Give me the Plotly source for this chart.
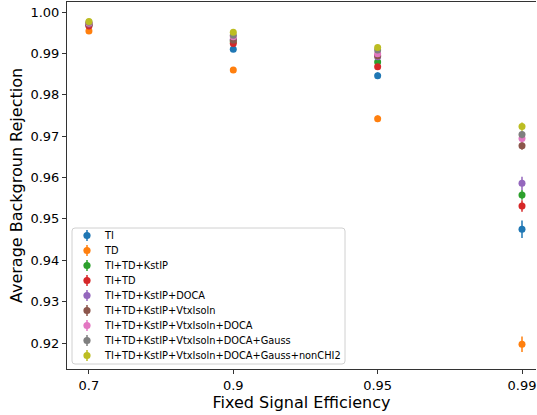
import plotly.graph_objects as go

efficiencies = ["0.7", "0.9", "0.95", "0.99"]

series_names = [
    "TI",
    "TD",
    "TI+TD+KstIP",
    "TI+TD",
    "TI+TD+KstIP+DOCA",
    "TI+TD+KstIP+VtxIsoln",
    "TI+TD+KstIP+VtxIsoln+DOCA",
    "TI+TD+KstIP+VtxIsoln+DOCA+Gauss",
    "TI+TD+KstIP+VtxIsoln+DOCA+Gauss+nonCHI2",
]

rej_ti = [0.9968, 0.9910, 0.9846, 0.9475]
rej_td = [0.9954, 0.9860, 0.9742, 0.9197]
rej_ti_td_kstip = [0.9969, 0.9928, 0.9879, 0.9558]
rej_ti_td = [0.9966, 0.9924, 0.9868, 0.9531]
rej_doca = [0.9971, 0.9934, 0.9892, 0.9586]
rej_vtx = [0.9971, 0.9932, 0.9894, 0.9677]
rej_vtx_doca = [0.9973, 0.9940, 0.9899, 0.9694]
rej_gauss = [0.9975, 0.9944, 0.9908, 0.9704]
rej_nonchi2 = [0.9977, 0.9951, 0.9914, 0.9723]

err_ti = [0.0002, 0.0004, 0.0008, 0.0021]
err_td = [0.0002, 0.0003, 0.0008, 0.0019]
err_ti_td_kstip = [0.0002, 0.0003, 0.0005, 0.0012]
err_ti_td = [0.0002, 0.0003, 0.0005, 0.0014]
err_doca = [0.0002, 0.0003, 0.0005, 0.0016]
err_vtx = [0.0002, 0.0003, 0.0005, 0.0010]
err_vtx_doca = [0.0002, 0.0003, 0.0005, 0.0009]
err_gauss = [0.0002, 0.0003, 0.0005, 0.0009]
err_nonchi2 = [0.0002, 0.0003, 0.0005, 0.0010]

values = [rej_ti, rej_td, rej_ti_td_kstip, rej_ti_td, rej_doca,
          rej_vtx, rej_vtx_doca, rej_gauss, rej_nonchi2]
errors = [err_ti, err_td, err_ti_td_kstip, err_ti_td, err_doca,
          err_vtx, err_vtx_doca, err_gauss, err_nonchi2]

colors = ["#1f77b4", "#ff7f0e", "#2ca02c", "#d62728", "#9467bd",
          "#8c564b", "#e377c2", "#7f7f7f", "#bcbd22"]

W, H = 537, 415
ML, MR, MT, MB = 67, 1, 2, 46
PW, PH = W - ML - MR, H - MT - MB


def px_x(px):
    """Pixel column -> paper x (relative to plot area)."""
    return (px - ML) / PW


def px_y(py):
    """Pixel row -> paper y (relative to plot area)."""
    return (H - MB - py) / PH


def rounded_box(x0, y0, x1, y1, r):
    """SVG path (paper coords) for a rectangle with rounded corners, given pixels."""
    rx, ry = r / PW, r / PH
    X0, X1, Y0, Y1 = px_x(x0), px_x(x1), px_y(y1), px_y(y0)
    return (f"M {X0 + rx},{Y0} L {X1 - rx},{Y0} Q {X1},{Y0} {X1},{Y0 + ry} "
            f"L {X1},{Y1 - ry} Q {X1},{Y1} {X1 - rx},{Y1} "
            f"L {X0 + rx},{Y1} Q {X0},{Y1} {X0},{Y1 - ry} "
            f"L {X0},{Y0 + ry} Q {X0},{Y0} {X0 + rx},{Y0} Z")


fig = go.Figure()
for name, ys, es, c in zip(series_names, values, errors, colors):
    fig.add_trace(go.Scatter(
        x=efficiencies, y=ys, name=name, mode="markers",
        marker=dict(color=c, size=7, line=dict(width=0)),
        error_y=dict(type="data", array=es, visible=True,
                     color=c, thickness=1.5, width=0),
        showlegend=False,
    ))

font = "DejaVu Sans, sans-serif"

# compact legend box: frame, then one symbol + label per series
shapes = [dict(
    type="path", xref="paper", yref="paper", layer="above",
    path=rounded_box(72, 228, 345, 364, 3),
    line=dict(color="#d0d0d0", width=1), fillcolor="rgba(255,255,255,0.8)",
)]
annotations = []
row0, row_step = 235.5, 15.0
sym_x, txt_x = 87, 101.5
for i, (name, c) in enumerate(zip(series_names, colors)):
    cy = row0 + i * row_step
    shapes.append(dict(
        type="line", xref="paper", yref="paper", layer="above",
        x0=px_x(sym_x), x1=px_x(sym_x), y0=px_y(cy - 5.5), y1=px_y(cy + 5.5),
        line=dict(color=c, width=1.5),
    ))
    shapes.append(dict(
        type="circle", xref="paper", yref="paper", layer="above",
        x0=px_x(sym_x - 3.6), x1=px_x(sym_x + 3.6),
        y0=px_y(cy + 3.6), y1=px_y(cy - 3.6),
        line=dict(width=0), fillcolor=c,
    ))
    annotations.append(dict(
        text=name, xref="paper", yref="paper", showarrow=False,
        x=px_x(txt_x), y=px_y(cy), xanchor="left", yanchor="middle",
        font=dict(family=font, size=9.8, color="black"),
    ))

fig.update_layout(
    width=W, height=H,
    margin=dict(l=ML, r=MR, t=MT, b=MB),
    paper_bgcolor="white", plot_bgcolor="white",
    font=dict(family=font, color="black", size=13),
    showlegend=False,
    shapes=shapes,
    annotations=annotations,
    xaxis=dict(
        type="category", range=[-0.152, 3.097],
        showgrid=False, zeroline=False,
        showline=True, linecolor="#333333", linewidth=1, mirror=True,
        ticks="outside", ticklen=4, tickcolor="#333333",
        tickfont=dict(size=13),
        title=dict(text="Fixed Signal Efficiency", font=dict(size=16), standoff=3),
    ),
    yaxis=dict(
        range=[0.91372, 1.00242],
        tickvals=[0.92, 0.93, 0.94, 0.95, 0.96, 0.97, 0.98, 0.99, 1.00],
        ticktext=["0.92", "0.93", "0.94", "0.95", "0.96", "0.97", "0.98", "0.99", "1.00"],
        showgrid=False, zeroline=False,
        showline=True, linecolor="#333333", linewidth=1,
        ticks="outside", ticklen=4, tickcolor="#333333",
        tickfont=dict(size=13),
        title=dict(text="Average Backgroun Rejection", font=dict(size=16), standoff=3),
    ),
)

fig.write_html("out.html")
